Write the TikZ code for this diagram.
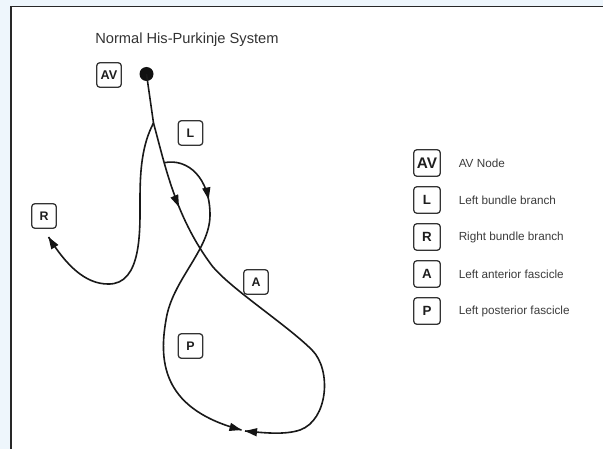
\documentclass[tikz,border=0pt]{standalone}
\usepackage{fontspec}
\setmainfont{Liberation Sans}
\usepackage{tikz}

\tikzset{
  wire/.style={color={rgb, 255:red, 25; green, 25; blue, 25 }, line width=1.2},
  tip/.style={fill={rgb, 255:red, 20; green, 20; blue, 20 }, draw opacity=0, line width=0.08},
  lbl/.style={draw={rgb, 255:red, 51; green, 51; blue, 51 }, line width=0.95, rounded corners=2.5pt,
    minimum width=18.5pt, minimum height=18.5pt, inner sep=0pt,
    text={rgb, 255:red, 30; green, 30; blue, 30 }, font=\bfseries\fontsize{9.3}{11}\selectfont},
  keybox/.style={lbl, minimum width=20pt, minimum height=20pt, font=\bfseries\fontsize{10}{12}\selectfont},
  keytext/.style={anchor=west, inner sep=0pt, text={rgb, 255:red, 60; green, 60; blue, 60 }, font=\fontsize{8.8}{10}\selectfont},
}

\begin{document}
\begin{tikzpicture}[x=0.75pt,y=0.75pt,yscale=-1,xscale=1]
\useasboundingbox (0,0) rectangle (603,449);
\clip (0,0) rectangle (603,449);

%Shape: Rectangle [id:bg]
\draw [draw opacity=0][fill={rgb, 255:red, 238; green, 246; blue, 252 }  ,fill opacity=1 ] (0,0) -- (603,0) -- (603,449) -- (0,449) -- cycle ;
%Shape: Rectangle [id:panel]
\draw [color={rgb, 255:red, 40; green, 40; blue, 40 }  ,draw opacity=1 ][fill={rgb, 255:red, 255; green, 255; blue, 255 }  ,fill opacity=1 ][line width=1.1] (11,6.5) -- (620,6.5) -- (620,460) -- (11,460) -- cycle ;

%Shape: Circle [id:avdot]
\draw (146.5,74) node (avdot) [circle, fill={rgb, 255:red, 17; green, 17; blue, 17 }, inner sep=0pt, minimum size=10.5pt] {};
\coordinate (his) at (153.5,123);
\coordinate (lbb) at (164.2,162.7);

%Straight Lines [id:stem]
\draw [wire] (avdot.center) -- (his) ;

%Curve Lines [id:right]
\draw [wire] (his) .. controls (142,145) and (140,170) .. (140,200) .. controls (140,230) and (142,285) .. (108,284) .. controls (85,284) and (66,265) .. (48.5,237) ;
\draw [shift={(48.5,237)}, rotate = 58] [tip] (12,-4.2) -- (0,0) -- (12,4.2) -- cycle ;

%Curve Lines [id:anterior]
\draw [wire] (his) .. controls (165,165) and (175,215) .. (210,263) .. controls (225,285) and (286,324) .. (312,350) .. controls (332,370) and (328,420) .. (300,430) .. controls (285,435) and (265,433) .. (245,431) ;
\draw [shift={(179,207)}, rotate = 247] [tip] (12,-4.2) -- (0,0) -- (12,4.2) -- cycle ;
\draw [shift={(245,431)}, rotate = 6] [tip] (12,-4.2) -- (0,0) -- (12,4.2) -- cycle ;

%Curve Lines [id:posterior]
\draw [wire] (lbb) .. controls (188,158) and (210,178) .. (210,215) .. controls (210,250) and (172,280) .. (166,320) .. controls (158,365) and (165,410) .. (241.5,430) ;
\draw [shift={(208.6,199.5)}, rotate = 259] [tip] (12,-4.2) -- (0,0) -- (12,4.2) -- cycle ;
\draw [shift={(241.5,430)}, rotate = 195] [tip] (12,-4.2) -- (0,0) -- (12,4.2) -- cycle ;

% Text Node
\draw (95,40) node (title) [anchor=west, inner sep=0pt, text={rgb, 255:red, 51; green, 51; blue, 51 }, font=\fontsize{11}{13}\selectfont] {Normal His-Purkinje System};
% Text Node
\draw (109,75) node (avlbl) [lbl, font=\bfseries\fontsize{9.5}{11}\selectfont] {AV};
% Text Node
\draw (190.5,133) node (llbl) [lbl] {L};
% Text Node
\draw (44,216) node (rlbl) [lbl] {R};
% Text Node
\draw (256,282) node (albl) [lbl] {A};
% Text Node
\draw (190.5,346) node (plbl) [lbl] {P};

% Legend
\draw (427,163) node (keyav) [keybox, font=\bfseries\fontsize{11.5}{13}\selectfont] {AV};
\draw (458.5,163) node (txtav) [keytext] {AV Node};
\draw (427,200) node (keyl) [keybox] {L};
\draw (458.5,200) node (txtl) [keytext] {Left bundle branch};
\draw (427,237) node (keyr) [keybox] {R};
\draw (458.5,237) node (txtr) [keytext] {Right bundle branch};
\draw (427,274) node (keya) [keybox] {A};
\draw (458.5,274) node (txta) [keytext] {Left anterior fascicle};
\draw (427,311) node (keyp) [keybox] {P};
\draw (458.5,311) node (txtp) [keytext] {Left posterior fascicle};

\end{tikzpicture}
\end{document}
